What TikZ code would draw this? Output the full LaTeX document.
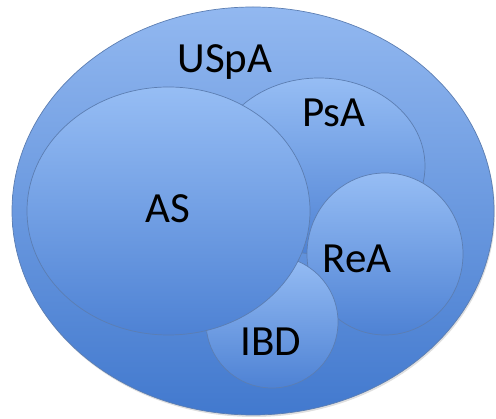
\documentclass[tikz,border=0pt]{standalone}
\usepackage{fontspec}
\setmainfont{Carlito}
\usetikzlibrary{shapes.geometric,shadows}
\definecolor{setTop}{RGB}{150,189,244}
\definecolor{setBottom}{RGB}{78,130,212}
\definecolor{outerTop}{RGB}{146,184,240}
\definecolor{outerBottom}{RGB}{66,121,206}
\definecolor{setEdge}{RGB}{92,126,178}
\newcommand{\setLabel}[1]{\fontsize{43}{50}\selectfont #1}

\begin{document}
\begin{tikzpicture}[x=1pt,y=-1pt,
  setShape/.style={ellipse, inner sep=0pt, outer sep=0pt, draw=setEdge, line width=0.7pt,
    top color=setTop, bottom color=setBottom},
  setName/.style={anchor=base, inner sep=0pt, text=black}]
\useasboundingbox (0,0) rectangle (496,419);
\node[setShape, top color=outerTop, bottom color=outerBottom,
  drop shadow={shadow xshift=1pt, shadow yshift=-2pt, opacity=0.25},
  minimum width=482pt, minimum height=408pt] (uspa) at (253,211) {};
\node[setShape, minimum width=212pt, minimum height=176pt] (psa) at (319,166) {};
\node[setShape, minimum width=156pt, minimum height=162pt] (rea) at (385,254) {};
\node[setShape, minimum width=132pt, minimum height=132pt] (ibd) at (272,322) {};
\node[setShape, minimum width=283pt, minimum height=248pt] (as) at (168.5,211) {};
% labels
\node[setName] (uspaLabel) at (225,73) {\setLabel{USpA}};
\node[setName] (psaLabel) at (334,127) {\setLabel{PsA}};
\node[setName] (asLabel) at (167.5,223) {\setLabel{AS}};
\node[setName] (reaLabel) at (357,273) {\setLabel{ReA}};
\node[setName] (ibdLabel) at (271,356) {\setLabel{IBD}};
\end{tikzpicture}
\end{document}
